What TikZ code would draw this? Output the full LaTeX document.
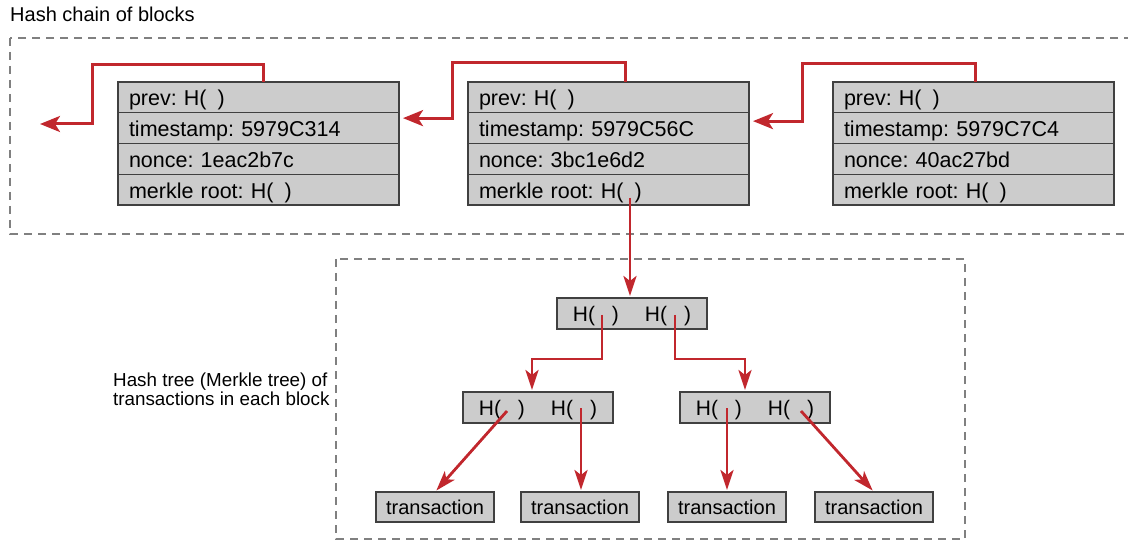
\documentclass[tikz,border=0pt]{standalone}
\usepackage{fontspec}
\setmainfont{Liberation Sans}
\usetikzlibrary{arrows.meta}
\definecolor{boxgray}{HTML}{CCCCCC}
\definecolor{boxline}{HTML}{404040}
\definecolor{arrred}{HTML}{C1272D}
\definecolor{dashgray}{HTML}{808080}
\newcommand\hashpair{H(\hspace{17pt})\hspace{26pt}H(\hspace{17pt})}
\newcommand\hslot{H(\hspace{11pt})}
\frenchspacing
\begin{document}
\begin{tikzpicture}[x=1pt,y=-1pt,
  blockrow/.style={draw=boxline, fill=boxgray, line width=1.4pt, minimum height=30.75pt,
    text width=259pt, inner xsep=11pt, inner ysep=0pt, align=left, anchor=north west,
    text height=17pt, text depth=0pt,
    outer sep=0pt, font=\fontsize{21.5}{24}\selectfont},
  hashbox/.style={draw=boxline, fill=boxgray, line width=1.4pt, minimum width=150pt,
    minimum height=31pt, inner sep=0pt, anchor=north west, outer sep=0pt,
    text height=15pt, text depth=0pt,
    font=\fontsize{21}{24}\selectfont},
  txbox/.style={draw=boxline, fill=boxgray, line width=1.4pt, minimum width=118pt,
    minimum height=30pt, inner sep=0pt, anchor=north west, outer sep=0pt,
    font=\fontsize{20}{24}\selectfont},
  link/.style={draw=arrred, line width=3pt,
    -{Stealth[length=20pt,width=16pt,inset=5pt]}},
  treelink/.style={draw=arrred, line width=2.8pt, shorten >=2pt,
    -{Stealth[length=20pt,width=13pt,inset=5pt]}},
  region/.style={draw=dashgray, line width=1.2pt, dash pattern=on 8pt off 6pt},
]
\useasboundingbox (0,0) rectangle (1128,540);

% regions
\draw[region] (10,38) rectangle (1145,234);
\draw[region] (336,259) rectangle (965,539);

% labels
\node[anchor=base west, inner sep=0pt, font=\fontsize{20}{24}\selectfont] (title) at (10,22) {Hash chain of blocks};
\node[anchor=north west, align=left, inner sep=0pt, font=\fontsize{18.8}{19}\selectfont] (treelabel) at (113,373) {Hash tree (Merkle tree) of\\transactions in each block};

% block 1
\node[blockrow] (b1p) at (118,82) {prev: \hslot};
\node[blockrow] (b1t) at (118,112.75) {timestamp: 5979C314};
\node[blockrow] (b1n) at (118,143.5) {nonce: 1eac2b7c};
\node[blockrow] (b1m) at (118,174.25) {merkle root: \hslot};
% block 2
\node[blockrow] (b2p) at (468,82) {prev: \hslot};
\node[blockrow] (b2t) at (468,112.75) {timestamp: 5979C56C};
\node[blockrow] (b2n) at (468,143.5) {nonce: 3bc1e6d2};
\node[blockrow] (b2m) at (468,174.25) {merkle root: \hslot};
% block 3
\node[blockrow] (b3p) at (833,82) {prev: \hslot};
\node[blockrow] (b3t) at (833,112.75) {timestamp: 5979C7C4};
\node[blockrow] (b3n) at (833,143.5) {nonce: 40ac27bd};
\node[blockrow] (b3m) at (833,174.25) {merkle root: \hslot};

% chain links
\coordinate (b0) at (40,124);
\draw[link] ([xshift=145pt]b1p.north west) |- (92,65) |- (b0);
\draw[link] ([xshift=157pt]b2p.north west) |- (452,63) |- ([xshift=4pt,yshift=10pt]b1t.east);
\draw[link] ([xshift=142pt]b3p.north west) |- (802,64) |- ([xshift=4pt,yshift=7pt]b2t.east);

% tree
\node[hashbox] (root) at (557,298) {\hashpair};
\node[hashbox] (hl) at (463,392) {\hashpair};
\node[hashbox] (hr) at (680,392) {\hashpair};
\node[txbox] (t1) at (376,492) {transaction};
\node[txbox] (t2) at (521,492) {transaction};
\node[txbox] (t3) at (668,492) {transaction};
\node[txbox] (t4) at (815,492) {transaction};

\coordinate (mk) at ([xshift=162pt,yshift=-8pt]b2m.west);
\coordinate (rootL) at ([xshift=45pt,yshift=-1.5pt]root.west);
\coordinate (rootR) at ([xshift=118pt,yshift=-1.5pt]root.west);
\coordinate (hlL) at ([xshift=44pt,yshift=-3.5pt]hl.west);
\coordinate (hlR) at ([xshift=118pt,yshift=-0.5pt]hl.west);
\coordinate (hrL) at ([xshift=47pt,yshift=-0.5pt]hr.west);
\coordinate (hrR) at ([xshift=121pt,yshift=-3.5pt]hr.west);

\draw[treelink] (mk) -- (mk |- root.north);
\draw[treelink] (rootL) -- ++(0,44) -| ([xshift=-6pt]hl.north);
\draw[treelink] (rootR) -- ++(0,44) -| ([xshift=-10pt]hr.north);
\draw[treelink] (hlL) -- (t1.north);
\draw[treelink] (hlR) -- (hlR |- t2.north);
\draw[treelink] (hrL) -- (hrL |- t3.north);
\draw[treelink] (hrR) -- (t4.north);
\end{tikzpicture}
\end{document}
